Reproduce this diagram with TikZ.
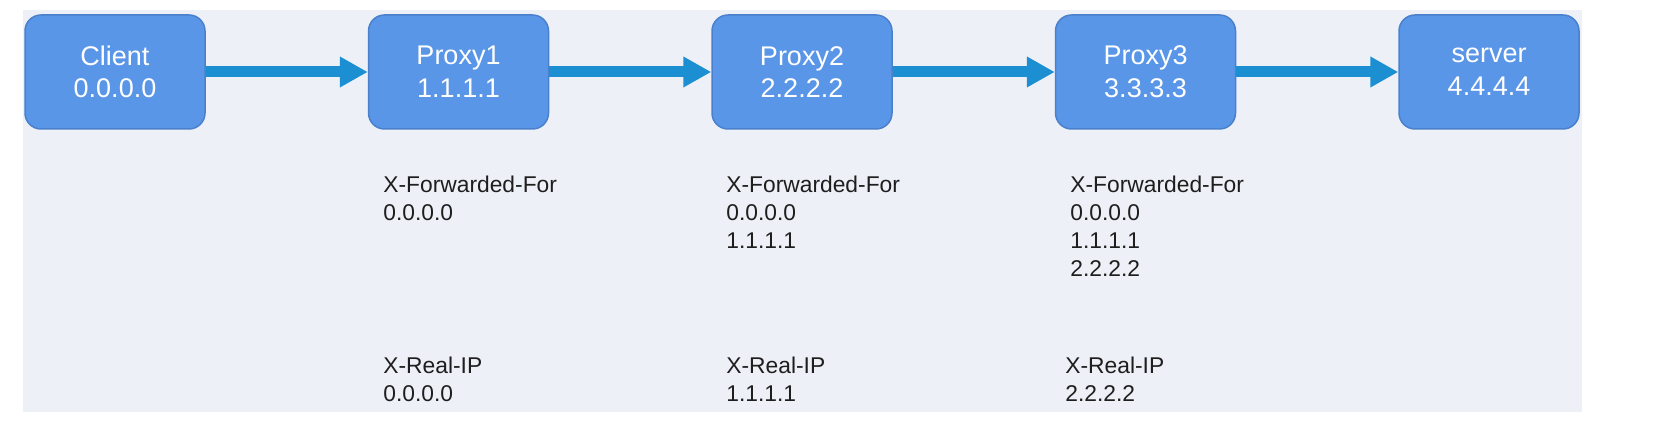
\documentclass[tikz,border=0pt]{standalone}
\usepackage{fontspec}
\setmainfont{Liberation Sans}
\usetikzlibrary{positioning,arrows.meta}
\definecolor{boxblue}{HTML}{5A96E8}
\definecolor{boxline}{HTML}{4A80CC}
\definecolor{linkblue}{HTML}{1C8FD3}
\definecolor{panel}{HTML}{EDF0F6}
\definecolor{labeltext}{HTML}{1E1E1E}

\begin{document}
\begin{tikzpicture}[x=0.5pt,y=-0.5pt,
	host/.style={draw=boxline,line width=0.75pt,fill=boxblue,rounded corners=8pt,minimum width=90pt,minimum height=57pt,align=center,text=white,font=\fontsize{13.5}{16.3}\selectfont},
	hop/.style={draw=linkblue,line width=5.5pt,-{Triangle[length=14pt,width=14.5pt]}},
	header/.style={anchor=north west,inner sep=0pt,align=left,text=labeltext,font=\fontsize{11.4}{13.9}\selectfont},
	node distance=81pt]
	\useasboundingbox (0,0) rectangle (1669,437);
	\fill[panel] (23,10) rectangle (1582,412);
	% hosts
	\node[host] (client) at (115,72) {Client\\0.0.0.0};
	\node[host,right=of client] (proxy1) {Proxy1\\1.1.1.1};
	\node[host,right=of proxy1] (proxy2) {Proxy2\\2.2.2.2};
	\node[host,right=of proxy2] (proxy3) {Proxy3\\3.3.3.3};
	\node[host,right=of proxy3] (server) {server\\4.4.4.4};
	\draw[hop] (client) -- (proxy1);
	\draw[hop] (proxy1) -- (proxy2);
	\draw[hop] (proxy2) -- (proxy3);
	\draw[hop] (proxy3) -- (server);
	% headers
	\node[header] (xff1) at (383,176) {X-Forwarded-For\\0.0.0.0};
	\node[header] (xff2) at (726,176) {X-Forwarded-For\\0.0.0.0\\1.1.1.1};
	\node[header] (xff3) at (1070,176) {X-Forwarded-For\\0.0.0.0\\1.1.1.1\\2.2.2.2};
	\node[header] (xri1) at (383,357) {X-Real-IP\\0.0.0.0};
	\node[header] (xri2) at (726,357) {X-Real-IP\\1.1.1.1};
	\node[header] (xri3) at (1065,357) {X-Real-IP\\2.2.2.2};
\end{tikzpicture}
\end{document}
